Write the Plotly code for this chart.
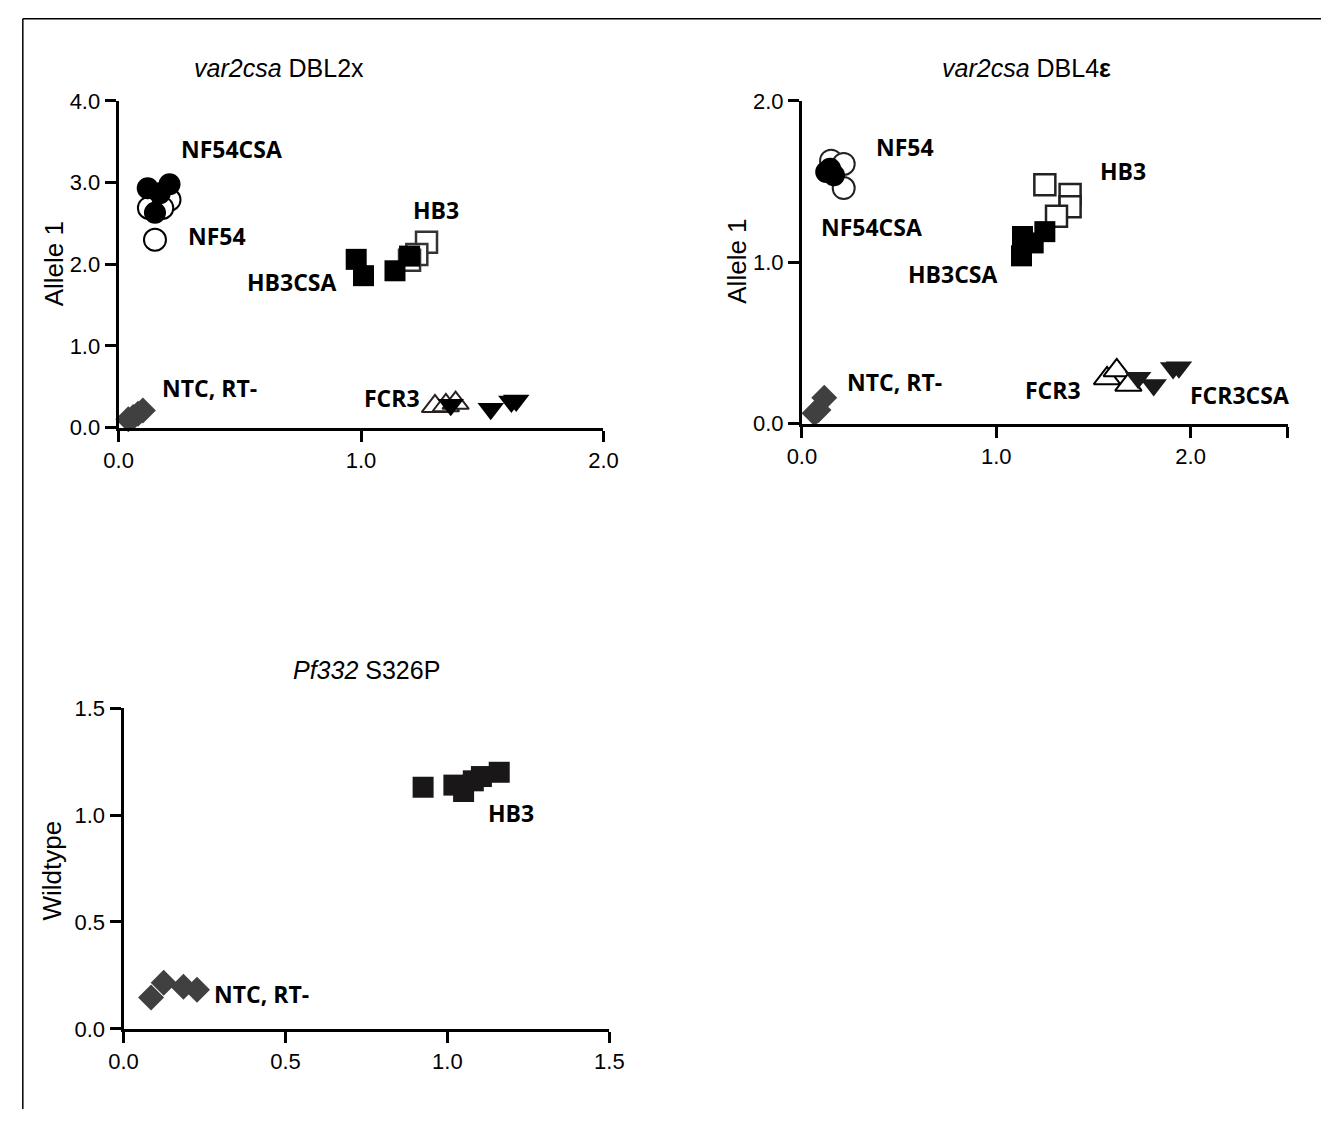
import plotly.graph_objects as go

W, H = 1336, 1122

# ---------------- data ----------------
# Panel A: var2csa DBL2x  (x, Allele 1)
a_nf54csa_x = [0.12, 0.21, 0.15, 0.17]
a_nf54csa_y = [2.93, 2.98, 2.63, 2.87]
a_nf54_x = [0.125, 0.21, 0.18, 0.15]
a_nf54_y = [2.69, 2.79, 2.69, 2.30]
a_hb3csa_x = [0.98, 1.01, 1.14, 1.20]
a_hb3csa_y = [2.06, 1.86, 1.92, 2.10]
a_hb3_x = [1.27, 1.23, 1.20]
a_hb3_y = [2.27, 2.12, 2.05]
a_ntc_x = [0.04, 0.06, 0.08, 0.10]
a_ntc_y = [0.10, 0.13, 0.17, 0.21]
a_fcr3_x = [1.305, 1.35, 1.39]
a_fcr3_y = [0.26, 0.27, 0.30]
a_fcr3csa_x = [1.37, 1.535, 1.62, 1.64]
a_fcr3csa_y = [0.28, 0.23, 0.32, 0.33]

# Panel B: var2csa DBL4e
b_nf54_x = [0.15, 0.215, 0.215]
b_nf54_y = [1.63, 1.61, 1.46]
b_nf54csa_x = [0.125, 0.165, 0.145]
b_nf54csa_y = [1.56, 1.54, 1.58]
b_hb3_x = [1.25, 1.38, 1.38, 1.31]
b_hb3_y = [1.48, 1.42, 1.345, 1.285]
b_hb3csa_x = [1.135, 1.19, 1.13, 1.25]
b_hb3csa_y = [1.16, 1.12, 1.04, 1.19]
b_ntc_x = [0.065, 0.085, 0.115]
b_ntc_y = [0.065, 0.085, 0.16]
b_fcr3_x = [1.57, 1.62, 1.68]
b_fcr3_y = [0.28, 0.33, 0.24]
b_fcr3csa_x = [1.73, 1.81, 1.91, 1.94]
b_fcr3csa_y = [0.285, 0.24, 0.345, 0.35]

# Panel C: Pf332 S326P (x, Wildtype)
c_hb3_x = [0.925, 1.02, 1.05, 1.08, 1.105, 1.16]
c_hb3_y = [1.13, 1.14, 1.11, 1.16, 1.18, 1.20]
c_ntc_x = [0.085, 0.124, 0.185, 0.227]
c_ntc_y = [0.146, 0.215, 0.197, 0.183]

# labels: (text, x, y)
a_labels = [("NF54CSA", 0.465, 3.41), ("NF54", 0.404, 2.34), ("HB3", 1.31, 2.67),
            ("HB3CSA", 0.715, 1.78), ("NTC, RT-", 0.376, 0.49), ("FCR3", 1.127, 0.36),
            ("FCR3CSA", 2.01, 0.36)]
b_labels = [("NF54", 0.528, 1.715), ("NF54CSA", 0.357, 1.22), ("HB3", 1.653, 1.564),
            ("HB3CSA", 0.779, 0.927), ("NTC, RT-", 0.477, 0.255), ("FCR3", 1.29, 0.206),
            ("FCR3CSA", 2.25, 0.176)]
c_labels = [("HB3", 1.196, 1.01), ("NTC, RT-", 0.426, 0.165)]

titles = ["<i>var2csa</i> DBL2x", "<i>var2csa</i> DBL4<b>ε</b>", "<i>Pf332</i> S326P"]
ytitles = ["Allele 1", "Allele 1", "Wildtype"]

# ---------------- figure ----------------
fig = go.Figure()

def px_x(p):
    return p / W

def px_y(p):
    return 1 - p / H

DIAM = "#404040"

def add(xs, ys, ax, symbol, color, size, line_color=None, fill=None, lw=0):
    fig.add_trace(go.Scatter(
        x=xs, y=ys, xaxis="x" + ax, yaxis="y" + ax, mode="markers",
        cliponaxis=False, showlegend=False, hoverinfo="skip",
        marker=dict(symbol=symbol, size=size,
                    color=fill if fill else color,
                    line=dict(color=line_color if line_color else color, width=lw))))

# panel A
add(a_nf54_x, a_nf54_y, "", "circle", "black", 22, "black", "white", 2)
add(a_nf54csa_x, a_nf54csa_y, "", "circle", "black", 22)
add(a_hb3_x, a_hb3_y, "", "square", "black", 21, "#333333", "white", 2.5)
add(a_hb3csa_x, a_hb3csa_y, "", "square", "black", 21)
add(a_ntc_x, a_ntc_y, "", "diamond", DIAM, 20)
add(a_fcr3_x, a_fcr3_y, "", "triangle-up", "black", 23, "#2a2020", "white", 2)
add(a_fcr3csa_x, a_fcr3csa_y, "", "triangle-down", "black", 23)

# panel B
add(b_nf54_x, b_nf54_y, "2", "circle", "black", 22, "#222222", "white", 2)
add(b_nf54csa_x, b_nf54csa_y, "2", "circle", "black", 22)
add(b_hb3_x, b_hb3_y, "2", "square", "black", 21, "#222222", "white", 2.5)
add(b_hb3csa_x, b_hb3csa_y, "2", "square", "black", 21)
add(b_ntc_x, b_ntc_y, "2", "diamond", DIAM, 20)
add(b_fcr3_x, b_fcr3_y, "2", "triangle-up", "black", 23, "black", "white", 2)
add(b_fcr3csa_x, b_fcr3csa_y, "2", "triangle-down", "#1a1a1a", 23)

# panel C
add(c_ntc_x, c_ntc_y, "3", "diamond", DIAM, 20)
add(c_hb3_x, c_hb3_y, "3", "square", "#1a1718", 21)

tickfont = dict(family="Liberation Sans, Arial, sans-serif", size=22, color="black")
axcommon = dict(showline=True, linecolor="black", linewidth=3, ticks="outside",
                ticklen=11, tickwidth=3, tickcolor="black", showgrid=False,
                zeroline=False, tickfont=tickfont, fixedrange=True)

fig.update_layout(
    width=W, height=H, margin=dict(l=0, r=0, t=0, b=0),
    paper_bgcolor="white", plot_bgcolor="white",
    xaxis=dict(domain=[px_x(106), px_x(602)], range=[0, 2.0], anchor="y",
               tickvals=[0, 1, 2], ticktext=["0.0", "1.0", "2.0"], **axcommon),
    yaxis=dict(domain=[px_y(425), px_y(91)], range=[0, 4.0], anchor="x",
               tickvals=[0, 1, 2, 3, 4], ticktext=["0.0", "1.0", "2.0", "3.0", "4.0"], **axcommon),
    xaxis2=dict(domain=[px_x(805), px_x(1302)], range=[0, 2.5], anchor="y2",
                tickvals=[0, 1, 2, 2.5], ticktext=["0.0", "1.0", "2.0", ""], **axcommon),
    yaxis2=dict(domain=[px_y(421), px_y(91)], range=[0, 2.0], anchor="x2",
                tickvals=[0, 1, 2], ticktext=["0.0", "1.0", "2.0"], **axcommon),
    xaxis3=dict(domain=[px_x(111), px_x(608)], range=[0, 1.5], anchor="y3",
                tickvals=[0, 0.5, 1, 1.5], ticktext=["0.0", "0.5", "1.0", "1.5"], **axcommon),
    yaxis3=dict(domain=[px_y(1040), px_y(712)], range=[0, 1.5], anchor="x3",
                tickvals=[0, 0.5, 1, 1.5], ticktext=["0.0", "0.5", "1.0", "1.5"], **axcommon),
)

labfont = dict(family="Open Sans, sans-serif", size=23, color="black")
for labs, ax in [(a_labels, ""), (b_labels, "2"), (c_labels, "3")]:
    for t, x, y in labs:
        fig.add_annotation(text="<b>" + t + "</b>", x=x, y=y, xref="x" + ax, yref="y" + ax,
                           showarrow=False, font=labfont, xanchor="center", yanchor="middle")

titlefont = dict(family="Liberation Sans, Arial, sans-serif", size=25, color="black")
for t, cx, cy in zip(titles, [270, 1035, 360], [57, 57, 673]):
    fig.add_annotation(text=t, x=px_x(cx), y=px_y(cy), xref="paper", yref="paper",
                       showarrow=False, font=titlefont, xanchor="center", yanchor="middle")

ytfont = dict(family="Liberation Sans, Arial, sans-serif", size=26, color="black")
for t, cx, cy in zip(ytitles, [40, 739, 38], [258, 255, 878]):
    fig.add_annotation(text=t, x=px_x(cx), y=px_y(cy), xref="paper", yref="paper",
                       showarrow=False, font=ytfont, textangle=-90,
                       xanchor="center", yanchor="middle")

# page frame lines (top and left)
fig.add_shape(type="line", xref="paper", yref="paper", x0=px_x(8), x1=1.0,
              y0=px_y(7), y1=px_y(7), line=dict(color="black", width=1.5))
fig.add_shape(type="line", xref="paper", yref="paper", x0=px_x(8), x1=px_x(8),
              y0=0, y1=px_y(7), line=dict(color="black", width=1.5))

fig.write_html("out.html")
